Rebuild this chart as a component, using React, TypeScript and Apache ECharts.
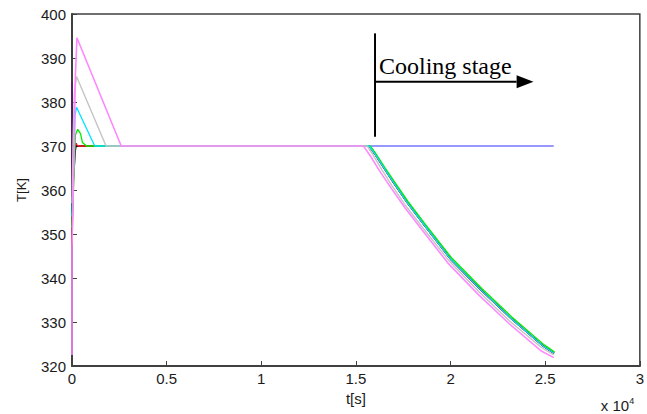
import React, { useEffect, useRef } from "react";
import * as echarts from "echarts";

// time in units of 10^4 s, temperature in K
const xTicks = [0, 0.5, 1, 1.5, 2, 2.5, 3];
const yTicks = [320, 330, 340, 350, 360, 370, 380, 390, 400];

const blueSet: number[][] = [[0, 370], [2.545, 370]];

const purpleHeat: number[][] = [[0, 357], [0, 384.5], [0.002, 370], [0.01, 370]];
const blackHeat: number[][] = [[0, 360], [0.006, 361], [0.012, 365], [0.018, 369], [0.024, 370.6], [0.02, 369.8], [0.03, 370]];
const redHeat: number[][] = [[0, 347.5], [0.002, 351.4], [0.006, 360], [0.008, 368], [0.015, 370.6], [0.025, 370.3], [0.035, 370]];
const greenHeat: number[][] = [[0, 351.4], [0.002, 354], [0.012, 365], [0.016, 370], [0.018, 372.5], [0.03, 373.8], [0.045, 372.8], [0.055, 370.8], [0.077, 370]];
const cyanHeat: number[][] = [[0, 354], [0.002, 357], [0.012, 370], [0.016, 377], [0.024, 378.8], [0.12, 370]];
const grayHeat: number[][] = [[0, 357], [0.005, 370], [0.012, 382], [0.024, 385.8], [0.18, 370]];
const pinkHeat: number[][] = [[0, 322.5], [0, 347], [0.012, 370], [0.017, 385], [0.026, 394.6], [0.26, 370]];

const coolMain: number[][] = [[1.57, 370], [1.6, 368.2], [1.65, 364.9], [1.7, 361.6], [1.77, 357.2], [1.86, 352.1], [2.0, 344.3], [2.16, 337.3], [2.32, 330.8], [2.49, 324.5], [2.547, 322.9]];
const coolGreen: number[][] = [[1.575, 370], [1.605, 368.3], [1.655, 365.0], [1.705, 361.8], [1.775, 357.4], [1.865, 352.3], [2.005, 344.6], [2.165, 337.6], [2.325, 331.1], [2.495, 324.8], [2.55, 323.2]];
const coolGray: number[][] = [[1.56, 370], [1.59, 368.0], [1.64, 364.4], [1.69, 361.0], [1.76, 356.6], [1.85, 351.6], [1.99, 344.0], [2.15, 336.9], [2.31, 330.3], [2.48, 324.2], [2.545, 322.5]];
const coolPink: number[][] = [[1.54, 370], [1.58, 367.5], [1.63, 364.0], [1.69, 360.2], [1.76, 355.9], [1.85, 350.9], [1.99, 343.2], [2.15, 336.1], [2.31, 329.6], [2.48, 323.4], [2.545, 321.9]];

const annotationText = "Cooling stage";

export default function App() {
  const ref = useRef<HTMLDivElement>(null);
  useEffect(() => {
    if (!ref.current) return;
    const chart = echarts.init(ref.current, undefined, { renderer: "svg" });
    const line = (name: string, color: string, data: number[][], width = 1.3) => ({
      name,
      type: "line",
      data,
      showSymbol: false,
      symbol: "none",
      lineStyle: { color, width },
      itemStyle: { color },
      emphasis: { disabled: true },
    });
    const axisFont = { fontFamily: "Liberation Sans", fontSize: 15, color: "#1a1a1a" };
    chart.setOption({
      animation: false,
      backgroundColor: "#ffffff",
      grid: { left: 72, top: 14, right: 4, bottom: 48, show: true, borderColor: "#404040", borderWidth: 1.5 },
      xAxis: {
        type: "value",
        min: 0,
        max: 3,
        interval: 0.5,
        name: "t[s]",
        nameLocation: "middle",
        nameGap: 24,
        nameTextStyle: { ...axisFont },
        axisLine: { lineStyle: { color: "#404040", width: 2 } },
        axisTick: { inside: true, length: 5, lineStyle: { color: "#404040" } },
        axisLabel: { ...axisFont, margin: 5, formatter: (v: number) => (xTicks.includes(v) ? String(v) : "") },
        splitLine: { show: false },
      },
      yAxis: {
        type: "value",
        min: 320,
        max: 400,
        interval: 10,
        name: "T[K]",
        nameLocation: "middle",
        nameGap: 44,
        nameTextStyle: { fontFamily: "Liberation Sans", fontSize: 13, color: "#1a1a1a" },
        axisLine: { lineStyle: { color: "#404040", width: 2 } },
        axisTick: { inside: true, length: 5, lineStyle: { color: "#404040" } },
        axisLabel: { ...axisFont, margin: 6, formatter: (v: number) => (yTicks.includes(v) ? String(v) : "") },
        splitLine: { show: false },
      },
      series: [
        line("blue", "#3030ff", blueSet, 1.0),
        line("purple", "#5a1a6a", [...purpleHeat, ...coolMain], 1.6),
        line("black", "#111111", [...blackHeat, ...coolMain]),
        line("red", "#ff2020", [...redHeat, ...coolMain]),
        line("green", "#00ee00", [...greenHeat, ...coolGreen]),
        line("cyan", "#00e5ff", [...cyanHeat, ...coolMain]),
        line("gray", "#c4c4c4", [...grayHeat, ...coolGray], 1.4),
        line("pink", "#ff88ff", [...pinkHeat, ...coolPink], 1.6),
      ],
    });

    const px = (t: number, T: number) => chart.convertToPixel({ gridIndex: 0 }, [t, T]) as number[];
    const vTop = px(1.601, 395.6);
    const vBot = px(1.601, 372.1);
    const aStart = px(1.601, 384.6);
    const aBase = px(2.349, 384.6);
    const aTip = px(2.438, 384.6);
    const tPos = px(1.622, 388.2);
    const corner = px(3, 320);

    chart.setOption({
      graphic: [
        { type: "line", shape: { x1: vTop[0], y1: vTop[1], x2: vBot[0], y2: vBot[1] }, style: { stroke: "#000", lineWidth: 2 } },
        { type: "line", shape: { x1: aStart[0], y1: aStart[1], x2: aBase[0], y2: aBase[1] }, style: { stroke: "#000", lineWidth: 2 } },
        {
          type: "polygon",
          shape: { points: [[aBase[0], aBase[1] - 6.5], [aTip[0], aTip[1]], [aBase[0], aBase[1] + 6.5]] },
          style: { fill: "#000" },
        },
        {
          type: "text",
          x: tPos[0],
          y: tPos[1],
          style: { text: annotationText, fontFamily: "Liberation Serif", fontSize: 24, fill: "#000", textAlign: "left", textVerticalAlign: "middle" },
        },
        {
          type: "text",
          x: corner[0] - 39,
          y: corner[1] + 30,
          style: {
            text: "{a|x 10}{b|4}",
            rich: {
              a: { fontFamily: "Liberation Sans", fontSize: 15, fill: "#1a1a1a", color: "#1a1a1a", verticalAlign: "bottom" },
              b: { fontFamily: "Liberation Sans", fontSize: 9, fill: "#1a1a1a", color: "#1a1a1a", verticalAlign: "top", padding: [0, 0, 8, 0] },
            },
            textVerticalAlign: "top",
          },
        },
      ],
    });
    return () => chart.dispose();
  }, []);
  return <div ref={ref} style={{ position: "fixed", left: 0, top: 0, width: 647, height: 414 }} />;
}
